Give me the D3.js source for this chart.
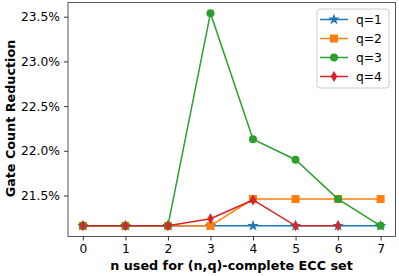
<!DOCTYPE html>
<html><head><meta charset="utf-8">
<script src="https://cdn.jsdelivr.net/npm/d3@7"></script>
<style>body{margin:0;background:#fff}svg{display:block}text{font-family:"DejaVu Sans",sans-serif}</style>
</head><body>
<script>
const nValues = [0,1,2,3,4,5,6,7];
const q1 = [21.16,21.16,21.16,21.16,21.16,21.16,21.16,21.16];
const q2 = [21.16,21.16,21.16,21.16,21.46,21.46,21.46,21.46];
const q3 = [21.16,21.16,21.16,23.54,22.13,21.90,21.46,21.16];
const q4 = [21.16,21.16,21.16,21.24,21.45,21.16,21.16];
const yTicks = [21.5,22.0,22.5,23.0,23.5];
const seriesNames = ["q=1","q=2","q=3","q=4"];

const W=399,H=276, L=68, R=395.5, T=2.5, B=236.5;
const svg=d3.select("body").append("svg").attr("width",W).attr("height",H);
const x=d3.scaleLinear().domain([-0.35,7.35]).range([L,R]);
const all=[...q1,...q2,...q3,...q4];
const mn=d3.min(all), mx=d3.max(all), m=(mx-mn)*0.05;
const y=d3.scaleLinear().domain([mn-m,mx+m]).range([B,T]);

const series=[
 {name:seriesNames[0],vals:q1,color:"#1f77b4",sym:"star"},
 {name:seriesNames[1],vals:q2,color:"#ff7f0e",sym:"square"},
 {name:seriesNames[2],vals:q3,color:"#2ca02c",sym:"circle"},
 {name:seriesNames[3],vals:q4,color:"#d62728",sym:"diamond"}
];
function marker(g,sym,cx,cy,color){
  if(sym==="circle") g.append("circle").attr("cx",cx).attr("cy",cy).attr("r",4).attr("fill",color);
  else if(sym==="square") g.append("rect").attr("x",cx-4).attr("y",cy-4).attr("width",8).attr("height",8).attr("fill",color);
  else if(sym==="diamond") g.append("path").attr("d",`M${cx},${cy-5.5}L${cx+3.3},${cy}L${cx},${cy+5.5}L${cx-3.3},${cy}Z`).attr("fill",color);
  else if(sym==="star") g.append("path").attr("d",d3.symbol().type(d3.symbolStar).size(42)()).attr("transform",`translate(${cx},${cy})`).attr("fill",color);
}
const plot=svg.append("g");
series.forEach(s=>{
  const line=d3.line().x((d,i)=>x(nValues[i])).y(d=>y(d));
  plot.append("path").attr("d",line(s.vals)).attr("fill","none").attr("stroke",s.color).attr("stroke-width",1.5);
  s.vals.forEach((v,i)=>marker(plot,s.sym,x(nValues[i]),y(v),s.color));
});

// frame
svg.append("rect").attr("x",L).attr("y",T).attr("width",R-L).attr("height",B-T).attr("fill","none").attr("stroke","#555").attr("stroke-width",1);

const xa=svg.append("g").attr("transform",`translate(0,${B})`)
  .call(d3.axisBottom(x).tickValues(nValues).tickFormat(d3.format("d")).tickSize(4).tickPadding(4));
const ya=svg.append("g").attr("transform",`translate(${L},0)`)
  .call(d3.axisLeft(y).tickValues(yTicks).tickFormat(d=>d.toFixed(1)+"%").tickSize(4).tickPadding(4));
[xa,ya].forEach(a=>{a.select(".domain").remove();a.selectAll("text").attr("font-size",12.3).attr("font-family","DejaVu Sans").attr("fill","#000");a.selectAll("line").attr("stroke","#222").attr("stroke-width",0.9);});

svg.append("text").attr("x",231.5).attr("y",270).attr("text-anchor","middle").attr("font-size",12.75).attr("font-weight","bold").text("n used for (n,q)-complete ECC set");
svg.append("text").attr("transform",`translate(14.5,${118.5}) rotate(-90)`).attr("text-anchor","middle").attr("font-size",12.75).attr("font-weight","bold").text("Gate Count Reduction");

// legend
const lg=svg.append("g");
lg.append("rect").attr("x",317).attr("y",9).attr("width",72).attr("height",79).attr("rx",3).attr("fill","#fff").attr("fill-opacity",0.8).attr("stroke","#ccc").attr("stroke-width",1);
series.forEach((s,i)=>{
  const cy=19.5+i*19;
  lg.append("line").attr("x1",320).attr("x2",348).attr("y1",cy).attr("y2",cy).attr("stroke",s.color).attr("stroke-width",1.5);
  marker(lg,s.sym,334,cy,s.color);
  lg.append("text").attr("x",356).attr("y",cy+4.3).attr("font-size",12.3).text(s.name);
});
</script>
</body></html>
